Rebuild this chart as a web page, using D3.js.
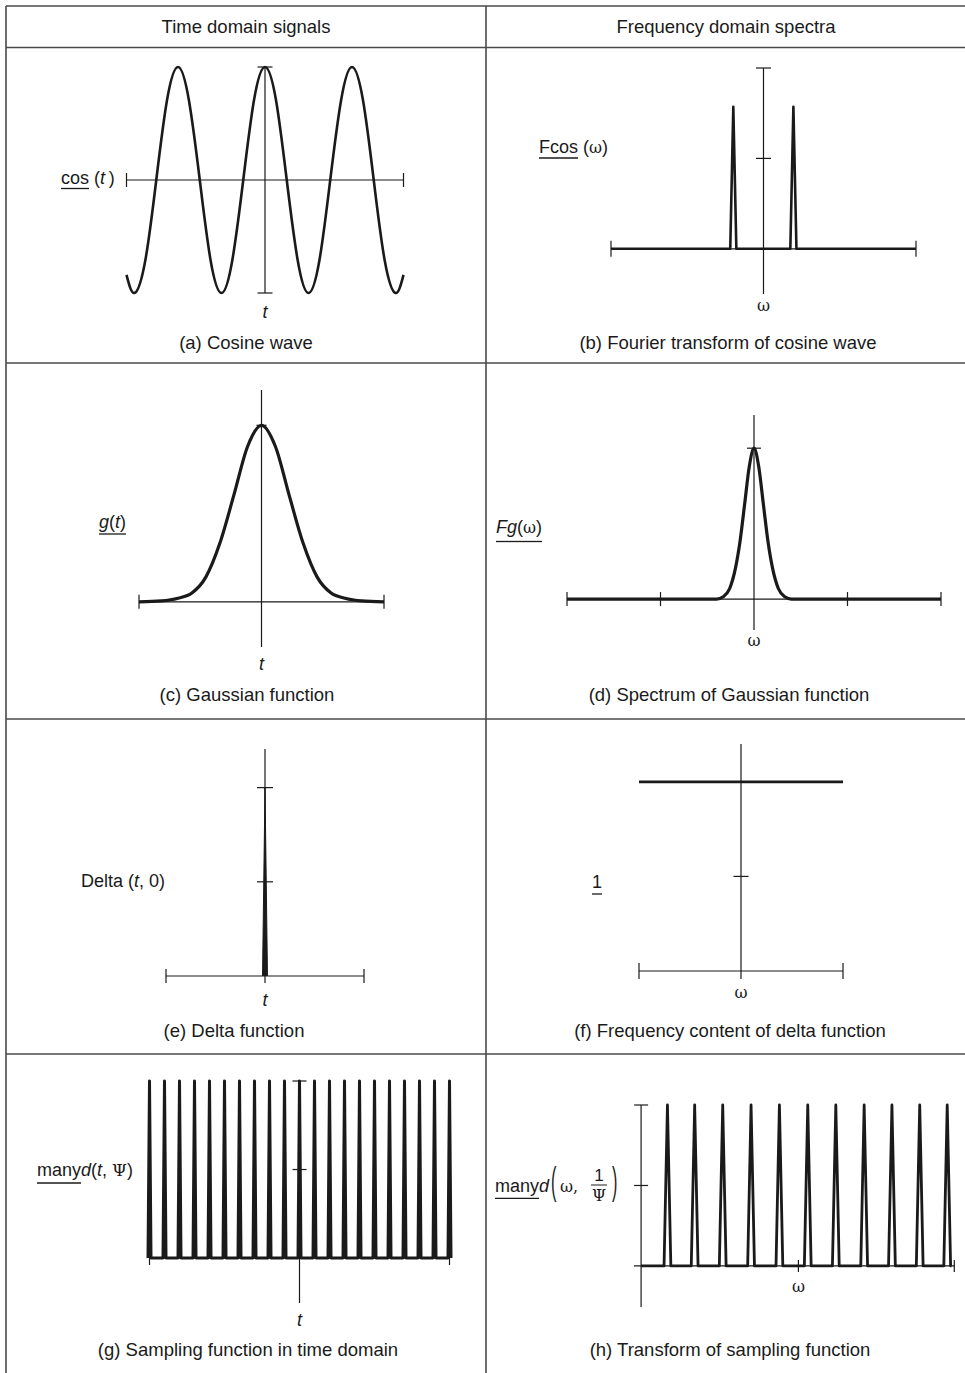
<!DOCTYPE html>
<html>
<head>
<meta charset="utf-8">
<script src="https://cdn.jsdelivr.net/npm/d3@7"></script>
<style>
  body { margin: 0; background: #fff; }
  text { font-family: "Liberation Sans", Arial, sans-serif; fill: #1a1a1a; white-space: pre; }
  text.serif { font-family: "DejaVu Serif", "Liberation Serif", serif; }
</style>
</head>
<body>
<div id="chart"></div>
<script>
// column headings and panel captions
var headings = ["Time domain signals", "Frequency domain spectra"];
var captions = ["(a) Cosine wave", "(b) Fourier transform of cosine wave",
                "(c) Gaussian function", "(d) Spectrum of Gaussian function",
                "(e) Delta function", "(f) Frequency content of delta function",
                "(g) Sampling function in time domain", "(h) Transform of sampling function"];

// (a) cosine wave, read every eighth of a period
var cosT = [-10, -9.42, -8.64, -7.85, -7.07, -6.28, -5.5, -4.71, -3.93, -3.14, -2.36, -1.57, -0.79, 0,
            0.79, 1.57, 2.36, 3.14, 3.93, 4.71, 5.5, 6.28, 7.07, 7.85, 8.64, 9.42, 10];
var cosV = [-0.84, -1, -0.71, 0, 0.71, 1, 0.71, 0, -0.71, -1, -0.71, 0, 0.71, 1,
            0.71, 0, -0.71, -1, -0.71, 0, 0.71, 1, 0.71, 0, -0.71, -1, -0.84];

// (b) spectrum of the cosine: two spikes
var fcosW = [-5, -1.09, -0.99, -0.89, 0.88, 0.98, 1.08, 5];
var fcosV = [0, 0, 1.57, 0, 0, 1.57, 0, 0];
var fcosTicks = [1, 2];

// (c) gaussian
var gaussT = [-4.4, -3.6, -3, -2.5, -2, -1.5, -1, -0.5, 0, 0.5, 1, 1.5, 2, 2.5, 3, 3.6, 4.4];
var gaussV = [0, 0.005, 0.02, 0.05, 0.14, 0.33, 0.6, 0.88, 1, 0.88, 0.6, 0.33, 0.14, 0.05, 0.02, 0.005, 0];

// (d) its spectrum
var fgW = [-2, -0.4, -0.33, -0.26, -0.2, -0.15, -0.1, -0.05, 0, 0.05, 0.1, 0.15, 0.2, 0.26, 0.33, 0.4, 2];
var fgV = [0, 0, 0.015, 0.07, 0.2, 0.38, 0.63, 0.88, 1, 0.88, 0.63, 0.38, 0.2, 0.07, 0.015, 0, 0];
var fgTicks = [-2, -1, 1, 2];

// (e) delta and (f) flat spectrum
var deltaT = [-0.025, 0, 0.025];
var deltaV = [0, 1, 0];
var deltaTicks = [0.5, 1];
var flatW = [-1, 1];
var flatV = [1, 1];
var flatTicks = [0.5];

// (g) sampling comb and (h) its transform: spike positions
var combT = [-10, -9, -8, -7, -6, -5, -4, -3, -2, -1, 0, 1, 2, 3, 4, 5, 6, 7, 8, 9, 10];
var combW = [-4.62, -3.66, -2.67, -1.67, -0.67, 0.33, 1.32, 2.32, 3.3, 4.28, 5.25];
var combV = 1;
var combTicks = [0.5, 1];

var width = 965, height = 1373;
var ink = "#1a1a1a";

var svg = d3.select("#chart").append("svg")
  .attr("width", width)
  .attr("height", height);

// table rules
var colX = [6, 486];
var rowY = [6, 47.5, 363, 719, 1054];
rowY.forEach(function(y) {
  svg.append("line").attr("x1", 6).attr("x2", width).attr("y1", y).attr("y2", y)
    .attr("stroke", "#4a4a4a").attr("stroke-width", 1.6);
});
colX.forEach(function(x) {
  svg.append("line").attr("x1", x).attr("x2", x).attr("y1", 6).attr("y2", height)
    .attr("stroke", "#4a4a4a").attr("stroke-width", 1.6);
});

svg.selectAll(".heading").data(headings).join("text")
  .attr("class", "heading")
  .attr("x", function(d, i) { return i == 0 ? 246 : 726; })
  .attr("y", 33)
  .attr("text-anchor", "middle")
  .style("font-size", "18.5px")
  .text(function(d) { return d; });

var capPos = [[246, 349], [728, 349], [247, 701], [729, 701], [234, 1037], [730, 1037], [248, 1356], [730, 1356]];
svg.selectAll(".caption").data(captions).join("text")
  .attr("class", "caption")
  .attr("x", function(d, i) { return capPos[i][0]; })
  .attr("y", function(d, i) { return capPos[i][1]; })
  .attr("text-anchor", "middle")
  .style("font-size", "18.5px")
  .text(function(d) { return d; });

function seg(g, x1, y1, x2, y2, w) {
  return g.append("line")
    .attr("x1", x1).attr("y1", y1).attr("x2", x2).attr("y2", y2)
    .attr("stroke", ink).attr("stroke-width", w || 1.2);
}

// horizontal axis along value 0, ticks given as [value, up, down]
function hAxis(g, x, y, a, b, ticks) {
  var yy = y(0);
  seg(g, x(a), yy, x(b), yy);
  ticks.forEach(function(t) { seg(g, x(t[0]), yy - t[1], x(t[0]), yy + t[2]); });
}

// vertical axis at xv, ticks centred on it
function vAxis(g, x, y, xv, a, b, ticks, half) {
  var xx = x(xv);
  seg(g, xx, y(a), xx, y(b));
  ticks.forEach(function(t) { seg(g, xx - half, y(t), xx + half, y(t)); });
}

function curve(g, x, y, xs, ys, w, c) {
  var pts = xs.map(function(d, i) { return [d, ys[i]]; });
  return g.append("path")
    .datum(pts)
    .attr("fill", "none")
    .attr("stroke", ink)
    .attr("stroke-width", w)
    .attr("stroke-linejoin", "round")
    .attr("d", d3.line()
      .x(function(d) { return x(d[0]); })
      .y(function(d) { return y(d[1]); })
      .curve(c || d3.curveLinear));
}

// spikes from centre positions, base half-width hw
function spikes(centres, h, hw, from, to) {
  var pts = [[from, 0]];
  centres.forEach(function(c) {
    pts.push([c - hw, 0], [c, h], [c + hw, 0]);
  });
  pts.push([to, 0]);
  return pts;
}

// inline label made of parts; u = underline offset below baseline
function label(g, x0, y0, parts, u) {
  var cx = x0;
  parts.forEach(function(p) {
    var t = g.append("text")
      .attr("x", cx).attr("y", y0)
      .style("font-size", (p.size || 18) + "px")
      .text(p.t);
    if (p.i) t.style("font-style", "italic");
    if (p.serif) t.attr("class", "serif").style("font-size", (p.size || 16) + "px");
    var len = t.node().getComputedTextLength();
    if (p.u) seg(g, cx, y0 + u, cx + len, y0 + u, 1.3);
    cx += len;
  });
  return cx;
}

function axisName(g, x, y, s, serif) {
  var t = g.append("text").attr("x", x).attr("y", y)
    .attr("text-anchor", "middle")
    .style("font-size", "18px")
    .text(s);
  if (serif) t.attr("class", "serif").style("font-size", "16px");
  else t.style("font-style", "italic");
}

var g = svg.append("g");

// (a) cosine wave
var xa = d3.scaleLinear().domain([-10, 10]).range([126.5, 403.5]);
var ya = d3.scaleLinear().domain([-1, 1]).range([293, 67]);
hAxis(g, xa, ya, -10, 10, [[-10, 7, 7], [10, 7, 7]]);
vAxis(g, xa, ya, 0, -1, 1, [-1, 1], 7.5);
curve(g, xa, ya, cosT, cosV, 2.6, d3.curveNatural);
label(g, 61, 184, [{t: "cos", u: true}, {t: " ("}, {t: "t", i: true}, {t: "\u2009)"}], 4.5);
axisName(g, xa(0), 318, "t");

// (b) spectrum of cosine
var xb = d3.scaleLinear().domain([-5, 5]).range([611, 916]);
var yb = d3.scaleLinear().domain([-0.5, 2]).range([294, 68]);
hAxis(g, xb, yb, -5, 5, [[-5, 8, 8], [5, 8, 8]]);
vAxis(g, xb, yb, 0, -0.5, 2, fcosTicks, 7.5);
curve(g, xb, yb, fcosW, fcosV, 2.6);
label(g, 539, 153, [{t: "Fcos", u: true}, {t: " ("}, {t: "\u03c9", serif: true}, {t: ")"}], 5);
axisName(g, xb(0), 311, "\u03c9", true);

// (c) gaussian
var xc = d3.scaleLinear().domain([-4.4, 4.4]).range([139, 384]);
var yc = d3.scaleLinear().domain([-0.256, 1.2]).range([647, 390]);
hAxis(g, xc, yc, -4.4, 4.4, [[-4.4, 7, 7], [4.4, 7, 7]]);
vAxis(g, xc, yc, 0, -0.256, 1.2, [1], 5);
curve(g, xc, yc, gaussT, gaussV, 3.2, d3.curveMonotoneX);
label(g, 99, 528, [{t: "g", i: true, u: true}, {t: "(", u: true}, {t: "t", i: true, u: true}, {t: ")", u: true}], 6);
axisName(g, xc(0), 670, "t");

// (d) spectrum of gaussian
var xd = d3.scaleLinear().domain([-2, 2]).range([567, 941]);
var yd = d3.scaleLinear().domain([-0.205, 1.22]).range([630, 415]);
hAxis(g, xd, yd, -2, 2, fgTicks.map(function(t) { return [t, 7, 7]; }));
vAxis(g, xd, yd, 0, -0.205, 1.22, [1], 7);
curve(g, xd, yd, fgW, fgV, 3.2, d3.curveMonotoneX);
label(g, 496, 533, [{t: "Fg", i: true, u: true}, {t: "(", u: true}, {t: "\u03c9", serif: true, u: true}, {t: ")", u: true}], 8.5);
axisName(g, xd(0), 646, "\u03c9", true);

// (e) delta function
var xe = d3.scaleLinear().domain([-1, 1]).range([166, 364]);
var ye = d3.scaleLinear().domain([0, 1.205]).range([976, 749]);
hAxis(g, xe, ye, -1, 1, [[-1, 7, 7], [1, 7, 7], [0, 0, 7]]);
vAxis(g, xe, ye, 0, 0, 1.205, deltaTicks, 8);
curve(g, xe, ye, deltaT, deltaV, 1).attr("fill", ink);
label(g, 81, 887, [{t: "Delta ("}, {t: "t", i: true}, {t: ", 0)"}], 0);
axisName(g, xe(0), 1006, "t");

// (f) flat spectrum
var xf = d3.scaleLinear().domain([-1, 1]).range([639, 843]);
var yf = d3.scaleLinear().domain([0, 1.2]).range([971, 744]);
hAxis(g, xf, yf, -1, 1, [[-1, 8, 8], [1, 8, 8], [0, 0, 8]]);
vAxis(g, xf, yf, 0, 0, 1.2, flatTicks, 7.5);
curve(g, xf, yf, flatW, flatV, 2.8);
label(g, 592, 888, [{t: "1", u: true}], 6);
axisName(g, xf(0), 998, "\u03c9", true);

// (g) sampling comb
var xg = d3.scaleLinear().domain([-10, 10]).range([149.5, 449.5]);
var yg = d3.scaleLinear().domain([-0.254, 1]).range([1303, 1081]);
hAxis(g, xg, yg, -10, 10, [[-10, 7, 7], [10, 7, 7]]);
vAxis(g, xg, yg, 0, -0.254, 1, combTicks, 7);
var combPts = spikes(combT, combV, 0.1, -10.1, 10.1);
curve(g, xg, yg, combPts.map(function(d) { return d[0]; }), combPts.map(function(d) { return d[1]; }), 3);
label(g, 37, 1176, [{t: "many", u: true}, {t: "d", i: true}, {t: "("}, {t: "t", i: true},
                    {t: ", "}, {t: "\u03a8", serif: true, size: 17}, {t: ")"}], 7);
axisName(g, xg(0), 1326, "t");

// (h) transform of the comb
var xh = d3.scaleLinear().domain([-5.8, 5.5]).range([634, 954.3]);
var yh = d3.scaleLinear().domain([-0.255, 1]).range([1307, 1105]);
hAxis(g, xh, yh, -5.8, 5.5, [[5.5, 6, 6], [0, 6, 6]]);
vAxis(g, xh, yh, -5.55, -0.255, 1, combTicks, 7);
var wPts = spikes(combW, combV, 0.12, -5.55, 5.4);
curve(g, xh, yh, wPts.map(function(d) { return d[0]; }), wPts.map(function(d) { return d[1]; }), 2.8);
label(g, 495, 1192, [{t: "many", u: true}, {t: "d", i: true}], 6.3);
g.append("text")
  .attr("transform", "translate(551,1194) scale(0.9,2.2)")
  .style("font-size", "18px").style("font-weight", "300").text("(");
g.append("text").attr("class", "serif").attr("x", 560).attr("y", 1192)
  .style("font-size", "16px").text("\u03c9,");
g.append("text").attr("x", 599).attr("y", 1181).attr("text-anchor", "middle")
  .style("font-size", "17px").text("1");
seg(g, 591, 1185, 607, 1185, 1);
g.append("text").attr("class", "serif").attr("x", 599).attr("y", 1201).attr("text-anchor", "middle")
  .style("font-size", "16px").text("\u03a8");
g.append("text")
  .attr("transform", "translate(612,1194) scale(0.9,2.2)")
  .style("font-size", "18px").style("font-weight", "300").text(")");
axisName(g, xh(0), 1292, "\u03c9", true);
</script>
</body>
</html>
